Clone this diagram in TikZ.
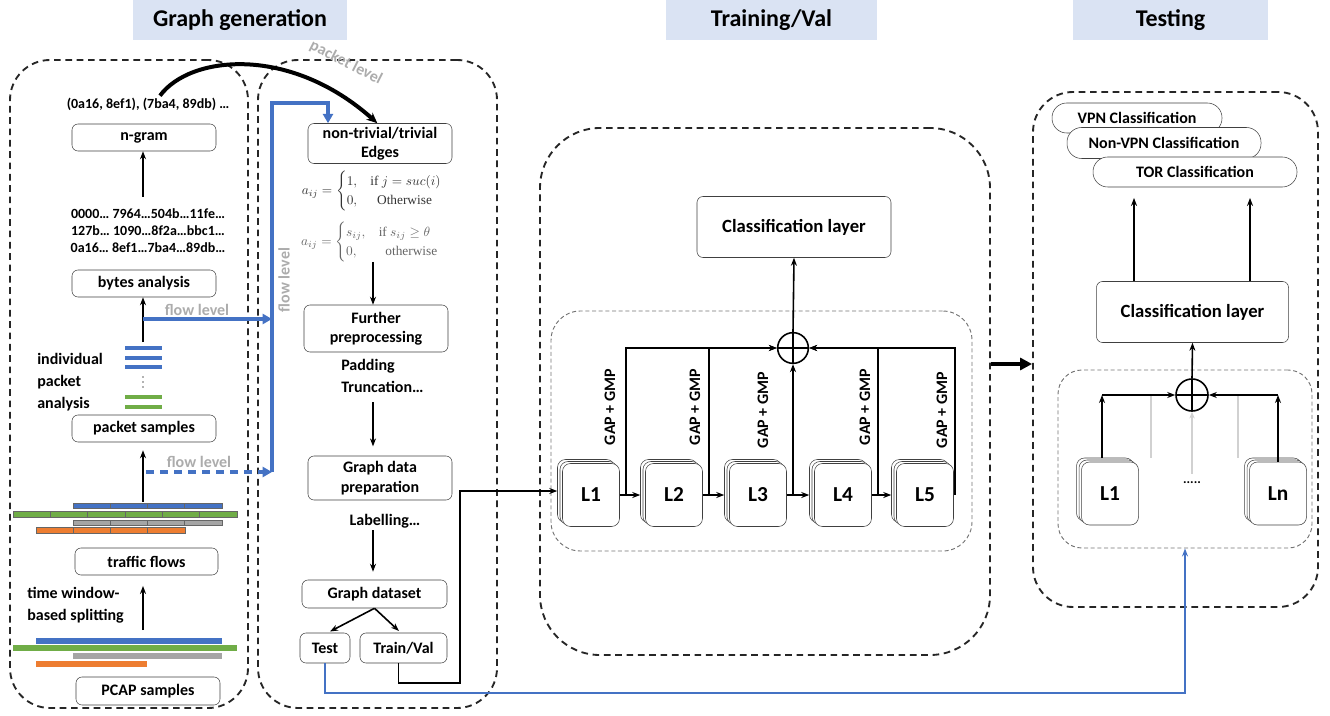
\documentclass[tikz,border=0pt]{standalone}
\usepackage{amsmath}
\usepackage[no-math]{fontspec}
\setmainfont{Carlito}
\newfontfamily\eqfont{Liberation Serif}
\usepackage{xcolor}
\definecolor{tabblue}{RGB}{68,114,196}
\definecolor{tabgreen}{RGB}{112,173,71}
\definecolor{tabgray}{RGB}{165,165,165}
\definecolor{taborange}{RGB}{237,125,49}
\definecolor{titlefill}{RGB}{218,227,243}
\definecolor{lvlgray}{RGB}{172,172,172}
\usepackage{tikz}
\usetikzlibrary{positioning, arrows, arrows.meta, calc}
\newcommand{\boxfont}{\bfseries\fontsize{12}{14.5}\selectfont}
% stacked layer block: name, x, y, label
\newcommand{\layerstack}[4]{%
    \node[layer] (#1c) at (#2-5,#3-4) {};
    \node[layer] (#1b) at (#2-2.5,#3-2) {};
    \node[layer] (#1) at (#2,#3) {#4};
}
\tikzstyle{box} = [
    draw=black!75, fill=white, rounded corners=4.5pt, align=center,
    inner sep=0pt, font=\boxfont,
]
\tikzstyle{panel} = [
    draw=black!85, line width=1.4pt, dash pattern=on 5pt off 3.5pt,
    rounded corners=30pt,
]
\tikzstyle{innerbox} = [
    draw=black!55, line width=0.7pt, dash pattern=on 3pt off 2pt,
    rounded corners=22pt,
]
\tikzstyle{title} = [
    fill=titlefill, minimum height=30pt, inner sep=0pt,
    font=\bfseries\fontsize{18}{20}\selectfont,
]
\tikzstyle{layer} = [
    draw=black!75, fill=white, rounded corners=6pt, inner sep=0pt,
    minimum width=42.75pt, minimum height=47.25pt,
    font=\bfseries\fontsize{16}{18}\selectfont,
]
\tikzstyle{pill} = [
    draw=black!75, fill=white, rounded corners=11pt, inner sep=0pt,
    font=\boxfont,
]
\tikzstyle{sumnode} = [
    draw, circle, line width=1.2pt, fill=white, inner sep=0pt,
    path picture={\draw[line width=1.2pt]
        (path picture bounding box.north) -- (path picture bounding box.south)
        (path picture bounding box.west) -- (path picture bounding box.east);},
]
\tikzstyle{sidetext} = [font=\boxfont, align=left, inner sep=0pt]
\tikzstyle{hextext} = [font=\bfseries\fontsize{10.5}{12.75}\selectfont, align=center]
\tikzstyle{lvltext} = [text=lvlgray, font=\boxfont, inner sep=0pt]
\tikzstyle{gaplbl} = [rotate=90, font=\boxfont, inner sep=0pt]
\tikzstyle{eqtext} = [font=\fontsize{10}{12}\selectfont, inner sep=0pt]
\tikzstyle{seg} = [draw=black!60, line width=0.5pt]
\tikzstyle{rawline} = [line width=4pt]
\tikzstyle{arrow} = [->, >={Stealth[length=6pt, width=4.5pt]}, line width=1.2pt]
\tikzstyle{flowline} = [tabblue, line width=2.4pt, -{Triangle[length=7pt, width=7.5pt]}]
\tikzstyle{pktarrow} = [line width=3pt, -{Stealth[length=8pt, width=7pt]}]
\tikzstyle{bigarrow} = [line width=3pt, -{Triangle[length=9pt, width=9pt]}]
\tikzstyle{ghost} = [black!18, line width=1pt]

\begin{document}
\begin{tikzpicture}[x=0.75pt, y=-0.75pt]
    \useasboundingbox (0,0) rectangle (1330,716);

    % titles
    \node[title, minimum width=160.5pt] (gentitle) at (240,20) {Graph generation};
    \node[title, minimum width=158.25pt] (traintitle) at (771.5,20) {Training/Val};
    \node[title, minimum width=146.25pt] (testtitle) at (1170.5,20) {Testing};

    % dashed panels
    \node[panel, minimum width=178.5pt, minimum height=486pt] (genpanel) at (129,384) {};
    \node[panel, minimum width=179.25pt, minimum height=486pt] (prepanel) at (377.5,384) {};
    \node[panel, minimum width=337.5pt, minimum height=395.25pt, rounded corners=45pt] (trainpanel) at (765,391.5) {};
    \node[panel, minimum width=213.75pt, minimum height=386.25pt] (testpanel) at (1175.5,349.5) {};
    \node[innerbox, minimum width=315.75pt, minimum height=180pt] (trinner) at (761.5,431) {};
    \node[innerbox, minimum width=190.5pt, minimum height=133.5pt, rounded corners=18pt] (tinner) at (1185,459) {};

    % graph generation
    \node[hextext] (pairs) at (148,104) {(0a16, 8ef1), (7ba4, 89db) …};
    \node[box, minimum width=108pt, minimum height=20.25pt] (ngram) at (144,137.5) {n-gram};
    \node[hextext] (hex) at (148,231) {0000… 7964…504b…11fe…\\127b… 1090…8f2a…bbc1…\\0a16… 8ef1…7ba4…89db…};
    \node[box, minimum width=108pt, minimum height=20.25pt] (bytes) at (144,283.5) {bytes analysis};
    \node[sidetext, anchor=west] (indiv) at (37,382) {individual\\[2pt]packet\\[2pt]analysis};
    \node[box, minimum width=108pt, minimum height=20.25pt] (packets) at (144,428.5) {packet samples};
    \node[box, minimum width=107.25pt, minimum height=20.25pt] (flows) at (146.5,561.5) {traffic flows};
    \node[sidetext, anchor=west] (split) at (27,605) {time window-\\[2pt]based splitting};
    \node[box, minimum width=108pt, minimum height=21pt] (pcap) at (148,691) {PCAP samples};

    \coordinate (hextop) at (143,197);
    \coordinate (barstop) at (143,342);
    \coordinate (segtop) at (143,502);
    \coordinate (rawtop) at (143,630);
    \draw[arrow] (hextop) -- (hextop |- ngram.south);
    \draw[arrow] (barstop) -- (barstop |- bytes.south);
    \draw[arrow, shorten >=6pt] (segtop) -- (segtop |- packets.south);
    \draw[arrow, shorten >=8pt] (rawtop) -- (rawtop |- flows.south);

    % packet bars
    \foreach \y in {348,358,367}
        \draw[tabblue, line width=3.5pt] (125,\y) -- (162,\y);
    \foreach \y in {397,407}
        \draw[tabgreen, line width=3.5pt] (125,\y) -- (162,\y);
    \foreach \y in {377,382,387}
        \fill[black!60] (143,\y) circle (0.6pt);

    % flow segments
    \foreach \x in {0,...,3}
        \filldraw[seg, fill=tabblue] (73+\x*37.25,503) rectangle ++(37.25,5.5);
    \foreach \x in {0,...,5}
        \filldraw[seg, fill=tabgreen] (13+\x*37.33,511.5) rectangle ++(37.33,5.5);
    \foreach \x in {0,...,3}
        \filldraw[seg, fill=tabgray] (73+\x*37.25,520) rectangle ++(37.25,5.5);
    \foreach \x in {0,...,3}
        \filldraw[seg, fill=taborange] (36+\x*37.25,527.5) rectangle ++(37.25,5.5);

    % raw pcap traffic
    \draw[rawline, tabblue] (36,641) -- (222,641);
    \draw[rawline, tabgreen] (13,648) -- (237,648);
    \draw[rawline, tabgray] (73,656) -- (222,656);
    \draw[rawline, taborange] (36,664) -- (147,664);

    % preprocessing
    \node[box, minimum width=108pt, minimum height=30pt] (edges) at (380,143.5) {non-trivial/trivial\\Edges};
    \node[eqtext, text=black!80] (eq1) at (372,191) {$a_{ij}=\begin{cases}1, & \text{\eqfont if } j=suc(i)\\ 0, & \text{\eqfont \ \ Otherwise}\end{cases}$};
    \node[eqtext, text=black!60] (eq2) at (370,242) {$a_{ij}=\begin{cases}s_{ij}, & \text{\eqfont if } s_{ij}\geq\theta\\ 0, & \text{\eqfont \ \ otherwise}\end{cases}$};
    \node[box, minimum width=108pt, minimum height=35.25pt] (further) at (376,328.5) {Further\\preprocessing};
    \node[sidetext, anchor=west] (padding) at (341,376) {Padding\\[2pt]Truncation…};
    \node[box, minimum width=108pt, minimum height=33pt] (gprep) at (380,478) {Graph data\\preparation};
    \node[sidetext] (labelling) at (385,521) {Labelling…};
    \node[box, minimum width=108.75pt, minimum height=21pt] (dataset) at (374.5,594) {Graph dataset};
    \node[box, minimum width=37.5pt, minimum height=22.5pt] (test) at (325,648) {Test};
    \node[box, minimum width=65.25pt, minimum height=22.5pt] (trainval) at (403.5,648) {Train/Val};

    \coordinate (eqbot) at (373,262);
    \coordinate (padbot) at (373,402);
    \coordinate (labbot) at (373,530);
    \draw[arrow] (eqbot) -- (eqbot |- further.north);
    \draw[arrow, shorten >=7pt] (padbot) -- (padbot |- gprep.north);
    \draw[arrow, shorten >=6pt] (labbot) -- (labbot |- dataset.north);
    \draw[arrow, shorten >=2pt] (dataset.south) -- ([xshift=2pt]test.north);
    \draw[arrow, shorten >=2pt] (dataset.south) -- ([xshift=-2pt]trainval.north);

    % flow level / packet level links
    \coordinate (flowsplit) at (143,319);
    \coordinate (dashstart) at (146,472);
    \coordinate (flowbus) at (272,472);
    \draw[flowline] (flowsplit) -- (flowbus |- flowsplit);
    \draw[flowline, dash pattern=on 6pt off 4.5pt] (dashstart) -- (flowbus);
    \draw[flowline] (flowbus) -- (272,103) -| (328,0 |- edges.north);
    \node[lvltext] (flowlbl1) at (197,310) {flow level};
    \node[lvltext] (flowlbl2) at (199,462) {flow level};
    \node[lvltext, rotate=90] (flowlbl3) at (284,280) {flow level};
    \draw[pktarrow] ([xshift=9pt, yshift=-2pt]pairs.north) .. controls (190,55) and (290,45) .. ([xshift=-2pt]edges.north);
    \node[lvltext, rotate=-27] (pktlbl) at (346,63) {packet level};

    % training / validation
    \node[box, minimum width=145.5pt, minimum height=45.75pt, font=\bfseries\fontsize{14}{16}\selectfont] (trclass) at (794,227) {Classification layer};
    \node[sumnode, minimum size=23pt] (trsum) at (793,348) {};
    \layerstack{l1}{591}{495}{L1}
    \layerstack{l2}{674}{495}{L2}
    \layerstack{l3}{758}{495}{L3}
    \layerstack{l4}{843}{495}{L4}
    \layerstack{l5}{925}{495}{L5}

    \draw[arrow] (trainval.south) ++(-5,0) |- (460,683) |- (l1c.west);
    \draw[arrow] (l1.east) -- (l1.east -| l2c.west);
    \draw[arrow] (l2.east) -- (l2.east -| l3c.west);
    \draw[arrow] (l3.east) -- (l3.east -| l4c.west);
    \draw[arrow] (l4.east) -- (l4.east -| l5c.west);
    \draw[arrow] (l1.east) ++(6.5,0) |- (trsum.west);
    \draw[arrow] (l2.east) ++(6.5,0) |- (trsum.west);
    \draw[arrow] (trsum.south |- l3.east) -- (trsum.south);
    \draw[arrow] (l4.east) ++(6.5,0) |- (trsum.east);
    \draw[arrow] (l5.east) ++(1.5,0) |- (trsum.east);
    \draw[arrow] (trsum.north) -- (trclass.south);

    \node[gaplbl] (gap1) at (610,407) {GAP + GMP};
    \node[gaplbl] (gap2) at (695,407) {GAP + GMP};
    \node[gaplbl] (gap3) at (763,410) {GAP + GMP};
    \node[gaplbl] (gap4) at (865,407) {GAP + GMP};
    \node[gaplbl] (gap5) at (942,410) {GAP + GMP};

    \draw[bigarrow] (trainpanel.east |- 0,364) -- (testpanel.west |- 0,364);

    % testing
    \node[pill, minimum width=127.5pt, minimum height=22.5pt] (vpn) at (1137,118) {VPN Classification};
    \node[pill, minimum width=145.5pt, minimum height=23.25pt] (nonvpn) at (1164,143) {Non-VPN Classification};
    \node[pill, minimum width=153pt, minimum height=22.5pt] (tor) at (1195,172) {TOR Classification};
    \node[box, minimum width=144pt, minimum height=45.75pt, font=\bfseries\fontsize{14}{16}\selectfont] (tclass) at (1192.5,312) {Classification layer};
    \node[sumnode, minimum size=24pt] (tsum) at (1192,395) {};
    \layerstack{tl1}{1110}{493.5}{L1}
    \layerstack{tln}{1278}{493.5}{Ln}
    \node[font=\bfseries\fontsize{10}{12}\selectfont] (tdots) at (1192,483) {.....};

    \draw[arrow, shorten >=8pt] (tclass.north -| 1134,0) -- (tor.south -| 1134,0);
    \draw[arrow, shorten >=8pt] (tclass.north -| 1250,0) -- (tor.south -| 1250,0);
    \draw[arrow] (tsum.north) -- (tclass.south);

    \coordinate (tl1top) at ($(tl1c.north)+(-3,0)$);
    \draw[ghost] ($(tsum)+(-41,0)$) -- ++(0,63);
    \draw[ghost] ($(tsum)+(46,0)$) -- ++(0,63);
    \draw[ghost, ->, >={Stealth[length=5pt, width=4pt]}] ($(tsum.south)+(0,62)$) -- (tsum.south);
    \draw[arrow] (tl1top) -- (tl1top |- tsum);
    \draw[arrow] (tl1top |- tsum) -- (tsum.west);
    \draw[arrow] (tln.north) -- (tln.north |- tsum);
    \draw[arrow] (tln.north |- tsum) -- (tsum.east);

    \draw[arrow, tabblue, line width=1pt] (test.south) |- (tinner.south |- 0,693) -- (tinner.south);

\end{tikzpicture}
\end{document}
